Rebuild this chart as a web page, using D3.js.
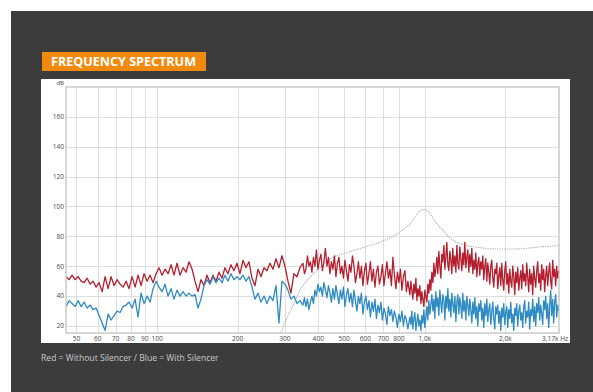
<!DOCTYPE html>
<meta charset="utf-8">
<style>
body { margin: 0; background: #fff; }
text { font-family: "Open Sans", Arial, sans-serif; }
.grid line { stroke: #dedede; stroke-width: 1; shape-rendering: crispEdges; }
.tick-label { font-size: 6.6px; fill: #4a4a4a; }
</style>
<script src="https://d3js.org/d3.v7.min.js"></script>
<body>
<div id="chart"></div>
<script>
// frequency grid of the measurement (Hz), shared by both curves
var freqHz = [
  45.75, 46.94, 48.17, 49.43, 50.72, 52.05, 53.41, 54.80, 56.23, 57.70,
  59.21, 60.75, 62.34, 63.97, 65.64, 67.35, 69.11, 70.91, 72.77, 74.67,
  76.61, 78.61, 80.67, 82.77, 84.93, 87.15, 89.43, 91.77, 94.16, 96.62,
  99.14, 101.7, 104.4, 107.1, 109.9, 112.8, 115.7, 118.7, 121.8, 125.0,
  128.3, 131.6, 135.1, 138.6, 142.2, 145.9, 149.7, 153.6, 157.6, 161.8,
  166.0, 170.3, 174.8, 179.3, 184.0, 188.8, 193.7, 198.8, 204.0, 209.4,
  214.8, 220.4, 226.2, 232.1, 238.2, 244.4, 250.8, 257.3, 264.0, 270.9,
  278.0, 285.3, 292.7, 300.3, 308.2, 316.2, 324.5, 333.0, 341.7,
  350.6, 355.1, 359.7, 364.4, 369.1, 373.9, 378.8, 383.7, 388.7, 393.7,
  398.8, 404.0, 409.2, 414.5, 419.9, 425.3, 430.9, 436.5, 442.2, 447.9,
  453.7, 459.6, 465.6, 471.6, 477.7, 483.9, 490.2, 496.6, 503.0, 509.5,
  516.2, 522.9, 529.7, 536.6, 543.5, 550.5, 557.7, 564.9, 572.2, 579.6,
  587.2, 594.8, 602.5, 610.3, 618.3, 626.3, 634.4, 642.6, 651.0, 659.4,
  668.0, 676.7, 685.5, 694.4, 703.4, 712.5, 721.7, 731.1, 740.6, 750.2,
  760.0, 769.8, 779.8, 789.9, 800.2, 810.6, 821.1, 831.7, 842.5, 853.4,
  864.5,
  879, 887, 894, 902, 910, 918, 926, 934, 942, 950,
  958, 967, 975, 983, 992, 1000, 1009, 1018, 1026, 1035,
  1044, 1053, 1062, 1072, 1081, 1090, 1099, 1109, 1118, 1128,
  1138, 1148, 1157, 1167, 1178, 1188, 1198, 1208, 1219, 1229,
  1240, 1251, 1261, 1272, 1283, 1295, 1306, 1317, 1328, 1340,
  1351, 1363, 1375, 1386, 1398, 1410, 1423, 1435, 1447, 1460,
  1472, 1485, 1498, 1511, 1524, 1537, 1550, 1564, 1577, 1591,
  1604, 1618, 1632, 1646, 1660, 1675, 1689, 1704, 1718, 1733,
  1748, 1763, 1778, 1794, 1809, 1825, 1840, 1856, 1872, 1888,
  1905, 1921, 1938, 1954, 1971, 1988, 2005, 2023, 2040, 2058,
  2076, 2094, 2112, 2130, 2148, 2167, 2185, 2204, 2223, 2243,
  2262, 2282, 2301, 2321, 2341, 2361, 2381, 2402, 2422, 2443,
  2464, 2486, 2507, 2529, 2550, 2572, 2595, 2617, 2640, 2663,
  2685, 2709, 2732, 2755, 2779, 2803, 2827, 2852, 2876, 2901,
  2926, 2951, 2977, 3003, 3028, 3054, 3081, 3108, 3134, 3161
];

// red = without silencer (dB)
var redDb = [
  53, 51, 54, 51, 53, 50, 49, 52, 48, 50,
  46, 49, 43, 53, 45, 53, 47, 51, 48, 46,
  50, 45, 53, 46, 54, 47, 55, 50, 54, 49,
  55, 59, 54, 58, 55, 61, 54, 62, 54, 59,
  56, 63, 58, 50, 43, 51, 47, 54, 49, 54,
  50, 56, 52, 59, 55, 61, 57, 62, 55, 64,
  59, 63, 52, 47, 58, 53, 59, 57, 62, 58,
  65, 59, 67, 60, 50, 42, 55, 53, 59,
  62, 55, 58, 67, 60, 63, 56, 66, 60, 71,
  58, 64, 68, 57, 63, 72, 60, 66, 55, 63,
  58, 67, 53, 62, 66, 55, 60, 52, 64, 57,
  50, 61, 56, 67, 60, 49, 55, 63, 52, 60,
  47, 57, 62, 48, 55, 63, 50, 58, 46, 56,
  60, 48, 53, 61, 47, 55, 63, 52, 58, 47,
  66, 54, 45, 56, 49, 58, 44, 53, 57, 43,
  50,
  41, 50, 44, 38, 48, 42, 52, 37, 45, 40,
  47, 35, 43, 38, 33, 44, 40, 36, 48, 42,
  51, 44, 56, 49, 62, 53, 58, 66, 55, 70,
  60, 52, 68, 63, 74, 58, 66, 76, 61, 57,
  70, 64, 55, 72, 60, 67, 56, 74, 62, 58,
  73, 65, 57, 69, 61, 76, 59, 66, 71, 56,
  68, 60, 72, 55, 64, 58, 69, 53, 62, 66,
  54, 63, 58, 67, 51, 60, 65, 50, 62, 56,
  48, 60, 64, 52, 46, 58, 55, 62, 45, 53,
  59, 47, 62, 51, 44, 57, 63, 48, 55, 42,
  58, 50, 46, 60, 53, 41, 56, 49, 59, 44,
  52, 57, 45, 61, 50, 55, 47, 62, 53, 43,
  58, 48, 55, 41, 60, 52, 46, 57, 63, 49,
  55, 44, 61, 51, 58, 43, 54, 60, 47, 56,
  62, 50, 45, 64, 53, 58, 47, 60, 52, 57
];

// blue = with silencer (dB)
var blueDb = [
  33, 37, 35, 33, 37, 33, 36, 32, 34, 31,
  32, 27, 22, 17, 28, 24, 27, 30, 29, 33,
  34, 36, 32, 38, 26, 42, 35, 40, 36, 45,
  50, 46, 43, 48, 40, 45, 38, 44, 40, 43,
  40, 42, 40, 41, 32, 38, 47, 51, 48, 53,
  49, 52, 49, 54, 50, 55, 51, 53, 51, 54,
  50, 53, 46, 38, 42, 36, 40, 35, 40, 37,
  47, 22, 50, 48, 44, 38, 40, 35, 37,
  34, 39, 33, 38, 31, 36, 40, 35, 44, 40,
  48, 43, 46, 40, 49, 44, 39, 47, 42, 36,
  45, 38, 47, 41, 35, 44, 38, 46, 33, 41,
  45, 36, 42, 33, 44, 37, 30, 40, 35, 42,
  28, 36, 40, 31, 37, 26, 36, 30, 38, 25,
  34, 29, 36, 24, 32, 28, 21, 33, 27, 31,
  23, 30, 26, 19, 28, 23, 30, 20, 27, 24,
  18,
  26, 21, 30, 18, 25, 29, 17, 23, 28, 20,
  24, 17, 27, 22, 31, 19, 26, 33, 24, 37,
  28, 34, 41, 30, 38, 25, 43, 33, 39, 27,
  44, 35, 29, 41, 37, 24, 40, 32, 45, 30,
  38, 26, 42, 35, 29, 40, 23, 36, 41, 28,
  39, 33, 25, 42, 30, 37, 24, 40, 34, 27,
  38, 31, 22, 36, 28, 39, 25, 33, 20, 35,
  30, 37, 24, 32, 19, 35, 27, 38, 23, 31,
  35, 21, 29, 36, 25, 18, 33, 28, 34, 22,
  30, 17, 32, 26, 35, 21, 29, 33, 19, 31,
  25, 36, 22, 28, 17, 32, 27, 35, 20, 30,
  34, 24, 29, 19, 33, 37, 22, 30, 26, 36,
  18, 31, 27, 38, 23, 33, 20, 35, 29, 39,
  24, 34, 28, 21, 37, 31, 40, 25, 35, 19,
  33, 44, 27, 38, 22, 36, 41, 26, 34, 30
];

// grey dotted reference curve
var refHz = [290, 300, 316, 330, 342, 370, 400, 425, 454, 500, 540, 600, 700, 760, 807, 850, 880, 910, 940, 970,
             1000, 1030, 1070, 1110, 1170, 1240, 1320, 1430, 1600, 1850, 2100, 2400, 2700, 3000, 3170];
var refDb = [15, 22, 31, 38, 44, 52, 58, 62.5, 66, 68.5, 70.5, 73, 77, 80, 83, 86, 88, 92, 95.5, 97.5,
             98, 96.5, 92.5, 88.5, 84, 79, 76, 74, 72.5, 71.5, 71.5, 72, 73, 73.5, 74];

// axis ticks
var xGridHz = [50, 60, 70, 80, 90, 100, 200, 300, 400, 500, 600, 700, 800, 1000, 2000];
var xTickHz = [50, 60, 70, 80, 90, 100, 200, 300, 400, 500, 600, 700, 800, 1000, 2000];
var xTickLabels = ["50", "60", "70", "80", "90", "100", "200", "300", "400", "500", "600", "700", "800", "1,0k", "2,0k"];
var yTicks = [20, 40, 60, 80, 100, 120, 140, 160];

var W = 593, H = 392;
var plot = {left: 66, right: 559, top: 87, bottom: 333};

var svg = d3.select("#chart")
  .append("svg")
    .attr("width", W)
    .attr("height", H);

// dark page background
svg.append("rect")
  .attr("x", 11).attr("y", 11)
  .attr("width", W - 11).attr("height", H - 11)
  .attr("fill", "#3c3c3c");

// orange title tag
svg.append("rect")
  .attr("x", 42).attr("y", 52)
  .attr("width", 164).attr("height", 19)
  .attr("fill", "#f18a0e");
svg.append("text")
  .attr("x", 51).attr("y", 66)
  .attr("fill", "#fff")
  .style("font-size", "12px")
  .style("font-weight", "bold")
  .attr("textLength", 145)
  .attr("lengthAdjust", "spacingAndGlyphs")
  .text("FREQUENCY SPECTRUM");

// white chart panel
svg.append("rect")
  .attr("x", 41).attr("y", 79)
  .attr("width", 529).attr("height", 264)
  .attr("fill", "#fff");

var x = d3.scaleLog()
  .domain([45.7, 3170])
  .range([plot.left, plot.right]);

var y = d3.scaleLinear()
  .domain([15.3, 180])
  .range([plot.bottom, plot.top]);

// grid
var grid = svg.append("g").attr("class", "grid");
grid.selectAll(".vg")
  .data(xGridHz)
  .enter().append("line")
    .attr("x1", function(d) { return Math.round(x(d)) + 0.5; })
    .attr("x2", function(d) { return Math.round(x(d)) + 0.5; })
    .attr("y1", plot.top)
    .attr("y2", plot.bottom);
grid.selectAll(".hg")
  .data(yTicks)
  .enter().append("line")
    .attr("x1", plot.left)
    .attr("x2", plot.right)
    .attr("y1", function(d) { return Math.round(y(d)) + 0.5; })
    .attr("y2", function(d) { return Math.round(y(d)) + 0.5; });

// tick labels
svg.append("g")
  .selectAll("text")
  .data(yTicks)
  .enter().append("text")
    .attr("class", "tick-label")
    .attr("x", 64)
    .attr("y", function(d) { return y(d); })
    .attr("dy", "0.35em")
    .attr("text-anchor", "end")
    .text(function(d) { return d; });

svg.append("text")
  .attr("class", "tick-label")
  .attr("x", 64).attr("y", 85)
  .attr("text-anchor", "end")
  .style("font-size", "6px")
  .text("dB");

svg.append("g")
  .selectAll("text")
  .data(xTickHz)
  .enter().append("text")
    .attr("class", "tick-label")
    .attr("x", function(d) { return x(d); })
    .attr("y", 341)
    .attr("text-anchor", "middle")
    .text(function(d, i) { return xTickLabels[i]; });

svg.append("text")
  .attr("class", "tick-label")
  .attr("x", 542).attr("y", 341)
  .text("3,17k Hz");

// clip to the plot frame
svg.append("clipPath").attr("id", "clip")
  .append("rect")
    .attr("x", plot.left).attr("y", plot.top)
    .attr("width", plot.right - plot.left).attr("height", plot.bottom - plot.top);

var line = d3.line()
  .x(function(d) { return x(d[0]); })
  .y(function(d) { return y(d[1]); });

var refLine = d3.line()
  .curve(d3.curveMonotoneX)
  .x(function(d) { return x(d[0]); })
  .y(function(d) { return y(d[1]); });

var curves = svg.append("g").attr("clip-path", "url(#clip)");

curves.append("path")
  .datum(d3.zip(refHz, refDb))
  .attr("fill", "none")
  .attr("stroke", "#a8a8a8")
  .attr("stroke-width", 1.1)
  .attr("stroke-dasharray", "1.2,1.2")
  .attr("d", refLine);

curves.append("path")
  .datum(d3.zip(freqHz, redDb))
  .attr("fill", "none")
  .attr("stroke", "#b41f2f")
  .attr("stroke-width", 1.3)
  .attr("stroke-linejoin", "round")
  .attr("d", line);

curves.append("path")
  .datum(d3.zip(freqHz, blueDb))
  .attr("fill", "none")
  .attr("stroke", "#2e8ac2")
  .attr("stroke-width", 1.3)
  .attr("stroke-linejoin", "round")
  .attr("d", line);

// plot frame
svg.append("rect")
  .attr("x", plot.left).attr("y", plot.top)
  .attr("width", plot.right - plot.left).attr("height", plot.bottom - plot.top)
  .attr("fill", "none")
  .attr("stroke", "#c2c2c2")
  .attr("stroke-width", 1.3);

// caption
svg.append("text")
  .attr("x", 41).attr("y", 361)
  .attr("fill", "#c9c9c9")
  .style("font-size", "8.6px")
  .text("Red = Without Silencer / Blue = With Silencer");
</script>
</body>
